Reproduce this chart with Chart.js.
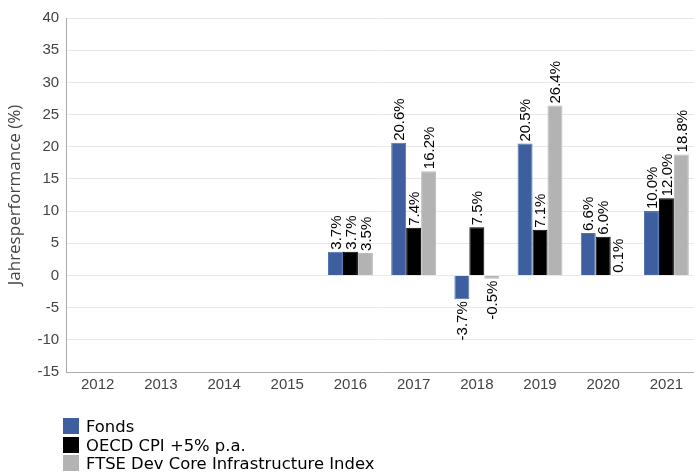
<!DOCTYPE html>
<html>
<head>
<meta charset="utf-8">
<script src="https://cdn.jsdelivr.net/npm/chart.js@4/dist/chart.umd.min.js"></script>
<style>
  html, body { margin: 0; padding: 0; background: #fff; overflow: hidden; width: 694px; height: 474px; }
  #wrap { position: absolute; left: 0; top: 0; width: 698px; height: 474px; }
  #legend { position: absolute; left: 63px; top: 418px; font: 16.4px "DejaVu Sans", sans-serif; color: #000; }
  .item { height: 18.5px; line-height: 17px; white-space: nowrap; }
  .box { display: inline-block; width: 16px; height: 16px; vertical-align: top; margin-right: 7px; }
</style>
</head>
<body>
<div id="wrap"><canvas id="chart"></canvas></div>
<div id="legend"></div>
<script>
// years on the x axis
const years = ["2012", "2013", "2014", "2015", "2016", "2017", "2018", "2019", "2020", "2021"];

// yearly performance in %, null where there is no value
const fonds = [null, null, null, null, 3.7, 20.6, -3.7, 20.5, 6.6, 10.0];
const oecd = [null, null, null, null, 3.7, 7.4, 7.5, 7.1, 6.0, 12.0];
const ftse = [null, null, null, null, 3.5, 16.2, -0.5, 26.4, 0.1, 18.8];

const seriesNames = ["Fonds", "OECD CPI +5% p.a.", "FTSE Dev Core Infrastructure Index"];
const seriesColors = ["#3e5f9f", "#000000", "#b3b3b3"];
const seriesBorders = ["#5272ad", "#000000", "#bdbdbd"];

// rotated value labels above (or below) each bar
const valueLabels = {
  id: "valueLabels",
  afterDatasetsDraw(chart) {
    const ctx = chart.ctx;
    ctx.save();
    ctx.font = '15px "Liberation Sans", Arial, sans-serif';
    ctx.fillStyle = "#000";
    ctx.textBaseline = "middle";
    chart.data.datasets.forEach((ds, i) => {
      const meta = chart.getDatasetMeta(i);
      meta.data.forEach((bar, j) => {
        const v = ds.data[j];
        if (v === null) return;
        const text = v.toFixed(1) + "%";
        ctx.save();
        if (v >= 0) {
          ctx.translate(bar.x, bar.y - 2);
          ctx.rotate(-Math.PI / 2);
          ctx.textAlign = "left";
        } else {
          ctx.translate(bar.x, bar.y + 2);
          ctx.rotate(-Math.PI / 2);
          ctx.textAlign = "right";
        }
        ctx.fillText(text, 0, 1);
        ctx.restore();
      });
    });
    ctx.restore();
  }
};

const datasets = [fonds, oecd, ftse].map((values, i) => ({
  label: seriesNames[i],
  data: values,
  backgroundColor: seriesColors[i],
  borderColor: seriesBorders[i],
  borderWidth: 1,
  categoryPercentage: 0.71,
  barPercentage: 1.0
}));

new Chart(document.getElementById("chart"), {
  type: "bar",
  data: { labels: years, datasets: datasets },
  plugins: [valueLabels],
  options: {
    responsive: true,
    maintainAspectRatio: false,
    animation: false,
    layout: { padding: { top: 18, right: 0, bottom: 76, left: 5 } },
    plugins: {
      legend: { display: false },
      tooltip: { enabled: false }
    },
    scales: {
      x: {
        grid: { display: false, drawTicks: false },
        border: { color: "#aaaaaa" },
        ticks: { color: "#444", font: { family: "Liberation Sans", size: 15 }, padding: 4, maxRotation: 0 }
      },
      y: {
        min: -15,
        max: 40,
        grid: { color: "#e8e8e8", drawTicks: false },
        border: { color: "#aaaaaa" },
        ticks: { stepSize: 5, color: "#444", font: { family: "Liberation Sans", size: 15 }, padding: 7 },
        title: {
          display: true,
          text: "Jahresperformance (%)",
          color: "#444",
          font: { family: "Open Sans", size: 17 },
          padding: { top: 0, bottom: 5 }
        }
      }
    }
  }
});

// legend, one entry per row
const legend = document.getElementById("legend");
seriesNames.forEach((name, i) => {
  const row = document.createElement("div");
  row.className = "item";
  const box = document.createElement("span");
  box.className = "box";
  box.style.background = seriesColors[i];
  row.appendChild(box);
  row.appendChild(document.createTextNode(name));
  legend.appendChild(row);
});
</script>
</body>
</html>
